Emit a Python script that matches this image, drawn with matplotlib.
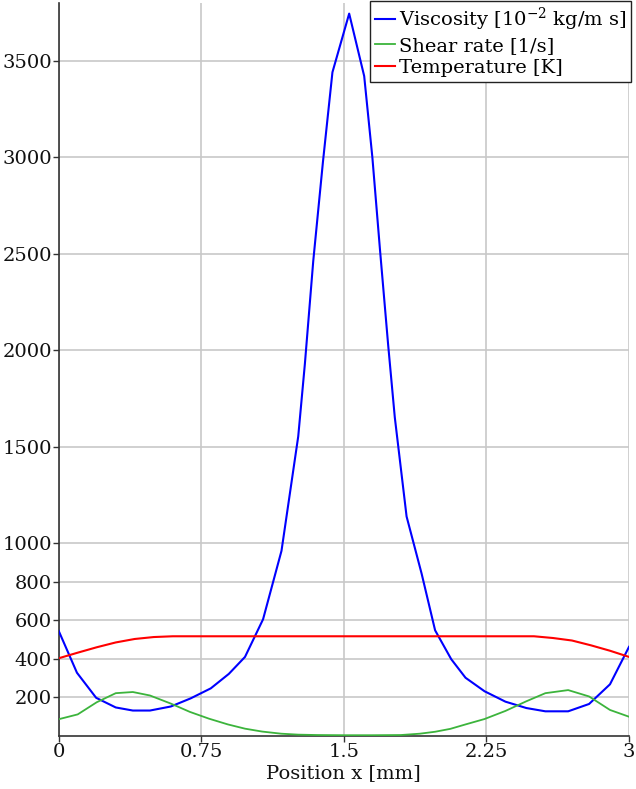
import matplotlib
matplotlib.use("Agg")
import matplotlib.pyplot as plt

# ---- data ----
visc_x = [0, 0.096, 0.197, 0.30, 0.39, 0.48, 0.59, 0.694, 0.80, 0.895, 0.98, 1.075,
          1.172, 1.26, 1.295, 1.339, 1.39, 1.44, 1.528, 1.607, 1.65, 1.69, 1.733,
          1.768, 1.83, 1.909, 1.98, 2.065, 2.14, 2.24, 2.35, 2.46, 2.56, 2.68, 2.79,
          2.90, 3.0]
visc_y = [545, 328, 198, 148, 132, 132, 153, 195, 247, 322, 410, 605,
          960, 1553, 1929, 2462, 2976, 3441, 3745, 3421, 3000, 2522, 2028,
          1652, 1138, 842, 548, 398, 302, 232, 178, 145, 128, 128, 166,
          268, 462]

shear_x = [0, 0.1, 0.2, 0.3, 0.39, 0.48, 0.59, 0.69, 0.79, 0.89, 0.98, 1.07, 1.17,
           1.26, 1.36, 1.5, 1.65, 1.8, 1.9, 1.98, 2.06, 2.14, 2.24, 2.35, 2.46,
           2.56, 2.68, 2.79, 2.90, 3.0]
shear_y = [87, 112, 175, 222, 228, 210, 168, 125, 90, 60, 38, 23, 12,
           7, 5, 4, 4, 5, 12, 22, 37, 60, 88, 130, 180,
           222, 238, 205, 135, 100]

temp_x = [0, 0.1, 0.2, 0.3, 0.4, 0.5, 0.6, 1.5, 2.5, 2.6, 2.7, 2.8, 2.9, 3.0]
temp_y = [403, 432, 460, 485, 503, 513, 517, 517, 517, 508, 495, 470, 442, 410]

x_ticks = [0, 0.75, 1.5, 2.25, 3]
x_tick_labels = ["0", "0.75", "1.5", "2.25", "3"]
y_ticks = [200, 400, 600, 800, 1000, 1500, 2000, 2500, 3000, 3500]

labels = ["Viscosity [$10^{-2}$ kg/m s]", "Shear rate [1/s]", "Temperature [K]"]
colors = ["#0000ff", "#3cb43c", "#ff0000"]

# ---- figure ----
plt.rcParams["font.family"] = ["DejaVu Serif"]
plt.rcParams["mathtext.fontset"] = "dejavuserif"
plt.rcParams["font.size"] = 14

fig = plt.figure(figsize=(6.36, 7.89), dpi=100)
ax = fig.add_axes([58.7 / 636, 53 / 789, (629 - 58.7) / 636, (736 - 3) / 789])

ax.plot(visc_x, visc_y, color=colors[0], lw=1.5, label=labels[0], zorder=3)
ax.plot(shear_x, shear_y, color=colors[1], lw=1.3, label=labels[1], zorder=3)
ax.plot(temp_x, temp_y, color=colors[2], lw=1.5, label=labels[2], zorder=3)

ax.set_xlim(0, 3)
ax.set_ylim(0, 3800)
ax.set_xticks(x_ticks)
ax.set_xticklabels(x_tick_labels)
ax.set_yticks(y_ticks)
ax.grid(True, color="#c8c8c8", lw=1.2)
ax.set_axisbelow(True)
for s in ["top", "right"]:
    ax.spines[s].set_visible(False)
for s in ["left", "bottom"]:
    ax.spines[s].set_color("#333333")
    ax.spines[s].set_linewidth(1.2)
ax.tick_params(direction="out", length=4, width=1, color="#333333", pad=1,
               labelcolor="#111111")
ax.set_xlabel("Position x [mm]", labelpad=2, color="#111111")

leg = fig.legend(loc="upper right", bbox_to_anchor=(631 / 636, 788 / 789),
                 borderaxespad=0, handlelength=1.0, handletextpad=0.2,
                 labelspacing=0.2, borderpad=0.25, fancybox=False,
                 framealpha=1, edgecolor="#222222")
leg.get_frame().set_linewidth(1.0)

fig.savefig("out.png", dpi=100)
